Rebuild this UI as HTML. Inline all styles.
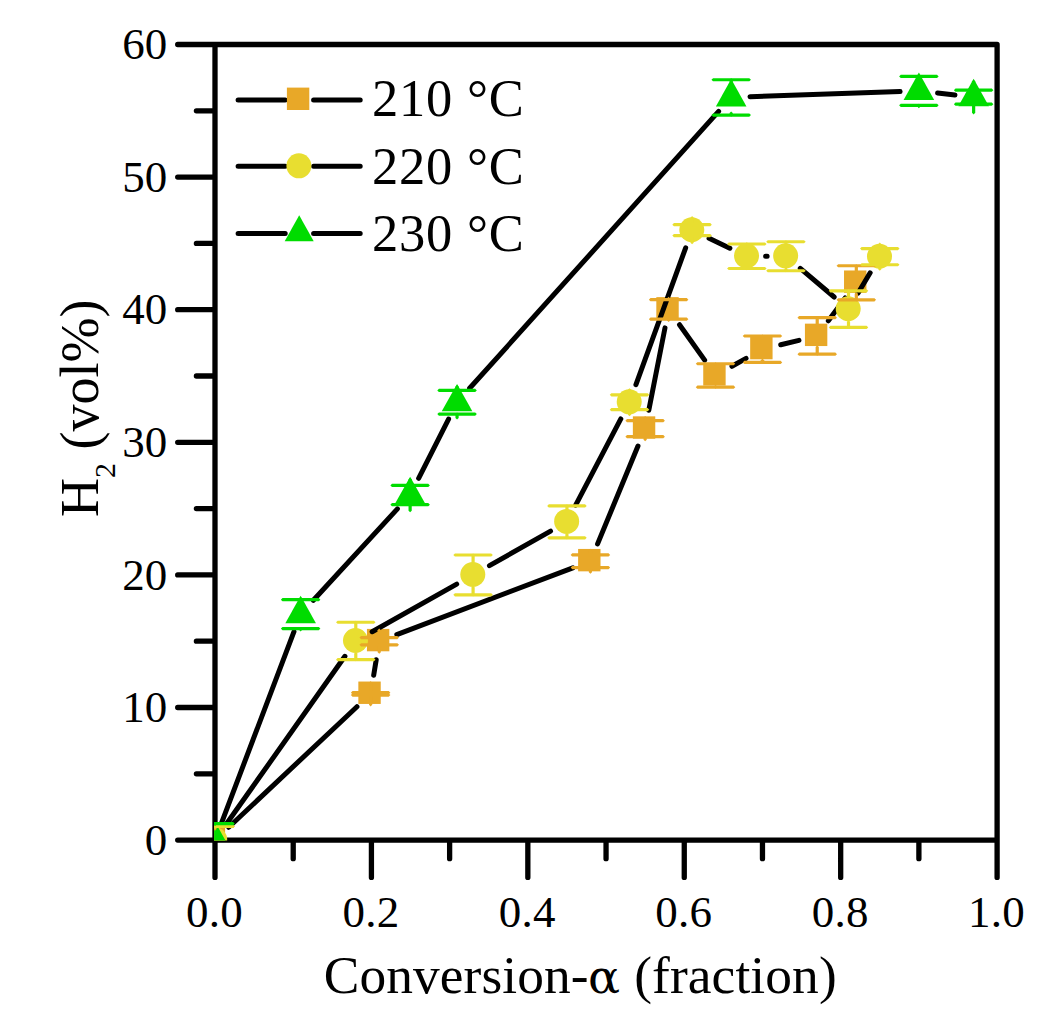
<!DOCTYPE html>
<html lang="en"><head><meta charset="utf-8"><title>H2 (vol%) vs Conversion</title>
<style>html,body{margin:0;padding:0;background:#fff;}svg{display:block;}text{font-family:'Liberation Serif', 'Times New Roman', serif;fill:#000;}</style>
</head><body>
<svg width="1047" height="1028" viewBox="0 0 1047 1028">
<rect width="1047" height="1028" fill="#fff"/>
<path d="M177.7 44.5H997.1V877.4M177.7 840.1H997.1M215 44.5V877.4M215 773.8H196.4M215 707.5H177.7M215 641.2H196.4M215 574.9H177.7M215 508.6H196.4M215 442.3H177.7M215 376H196.4M215 309.7H177.7M215 243.4H196.4M215 177.1H177.7M215 110.8H196.4M293.21 840.1V858.7M371.42 840.1V877.4M449.63 840.1V858.7M527.84 840.1V877.4M606.05 840.1V858.7M684.26 840.1V877.4M762.47 840.1V858.7M840.68 840.1V877.4M918.89 840.1V858.7" stroke="#000" stroke-width="5.3" stroke-linecap="round" stroke-linejoin="round" fill="none"/>
<g font-size="45">
<text x="167.2" y="854.7" text-anchor="end">0</text>
<text x="167.2" y="722.1" text-anchor="end">10</text>
<text x="167.2" y="589.5" text-anchor="end">20</text>
<text x="167.2" y="456.9" text-anchor="end">30</text>
<text x="167.2" y="324.3" text-anchor="end">40</text>
<text x="167.2" y="191.7" text-anchor="end">50</text>
<text x="167.2" y="59.1" text-anchor="end">60</text>
<text x="214.5" y="927.1" text-anchor="middle" letter-spacing="0.25">0.0</text>
<text x="370.92" y="927.1" text-anchor="middle" letter-spacing="0.25">0.2</text>
<text x="527.34" y="927.1" text-anchor="middle" letter-spacing="0.25">0.4</text>
<text x="683.76" y="927.1" text-anchor="middle" letter-spacing="0.25">0.6</text>
<text x="840.18" y="927.1" text-anchor="middle" letter-spacing="0.25">0.8</text>
<text x="996.6" y="927.1" text-anchor="middle" letter-spacing="0.25">1.0</text>
</g>
<text y="993.1" font-size="53.4"><tspan x="323.7" letter-spacing="0.1">Conversion-</tspan><tspan x="588" font-family="'DejaVu Serif', serif" font-size="47.5">α </tspan><tspan x="634.2" letter-spacing="0.1">(fraction)</tspan></text>
<text transform="translate(97.8 516.9) rotate(-90)" font-size="54">H<tspan font-size="30" dy="17.5">2</tspan><tspan dy="-17.5"> (vol%)</tspan></text>
<clipPath id="pa"><rect x="214.1" y="40" width="785.6" height="800.6"/></clipPath>
<g clip-path="url(#pa)">
<path d="M228.7 827.23L356.94 706.72M373.67 675.29L376.21 659.75M396.82 634.54L572.83 567.9M597.58 543.87L637.98 446.02M648.79 410.2L664.99 327.88M679.51 324.76L704.65 360.14M731.95 366.29L746.06 358.39M780.74 344.79L798.95 340.38M828.36 320.81L845.18 297.93" stroke="#000" stroke-width="5.0" stroke-linecap="round" fill="none"/>
<rect x="202.7" y="827.8" width="22.4" height="22.4" fill="#E8A828"/><rect x="358.34" y="681.54" width="22.4" height="22.4" fill="#E8A828"/><rect x="366.94" y="628.9" width="22.4" height="22.4" fill="#E8A828"/><rect x="578.11" y="548.94" width="22.4" height="22.4" fill="#E8A828"/><rect x="632.86" y="416.34" width="22.4" height="22.4" fill="#E8A828"/><rect x="656.32" y="297.13" width="22.4" height="22.4" fill="#E8A828"/><rect x="703.24" y="363.17" width="22.4" height="22.4" fill="#E8A828"/><rect x="750.17" y="336.91" width="22.4" height="22.4" fill="#E8A828"/><rect x="804.92" y="323.65" width="22.4" height="22.4" fill="#E8A828"/><rect x="844.02" y="270.48" width="22.4" height="22.4" fill="#E8A828"/>
<path d="M225.85 824.75L344.93 656.29M372.16 631.71L456.71 584.12M489.46 565.65L550.58 531.11M575.66 505.2L620.8 418.91M635.94 384.59L685.66 247.81M709.05 238.24L729.86 248.17M765.63 256.26L767.13 256.26M800.29 268.4L834.15 297.03M858.12 293.02L870.16 272.81" stroke="#000" stroke-width="5.0" stroke-linecap="round" fill="none"/>
<circle cx="214.7" cy="839.7" r="12.5" fill="#E8DE30"/><circle cx="355.48" cy="640.53" r="12.5" fill="#E8DE30"/><circle cx="472.79" cy="574.5" r="12.5" fill="#E8DE30"/><circle cx="566.64" cy="521.46" r="12.5" fill="#E8DE30"/><circle cx="629.21" cy="401.85" r="12.5" fill="#E8DE30"/><circle cx="691.78" cy="229.74" r="12.5" fill="#E8DE30"/><circle cx="746.53" cy="255.86" r="12.5" fill="#E8DE30"/><circle cx="785.63" cy="255.86" r="12.5" fill="#E8DE30"/><circle cx="848.2" cy="308.77" r="12.5" fill="#E8DE30"/><circle cx="879.49" cy="256.26" r="12.5" fill="#E8DE30"/>
<path d="M221.66 822.52L293.98 631.73M313.37 600.31L397.41 508.91M418.62 478.3L448.58 419.03M469.63 388.28L718.62 111.39M749.97 96.76L900.1 91.56M937.57 93.04L954.96 95.02" stroke="#000" stroke-width="5.0" stroke-linecap="round" fill="none"/>
<polygon points="215,821.8 230.3,849.1 199.7,849.1" fill="#00DC00"/><polygon points="300.64,595.85 315.94,623.15 285.34,623.15" fill="#00DC00"/><polygon points="410.13,476.77 425.43,504.07 394.83,504.07" fill="#00DC00"/><polygon points="457.06,383.95 472.36,411.25 441.76,411.25" fill="#00DC00"/><polygon points="731.19,79.11 746.49,106.41 715.89,106.41" fill="#00DC00"/><polygon points="918.89,72.61 934.19,99.91 903.59,99.91" fill="#00DC00"/><polygon points="973.64,78.84 988.94,106.14 958.34,106.14" fill="#00DC00"/>
<polygon points="215,824.9 216.6,826.5 216.6,829.1 215,830.7 213.4,829.1 213.4,826.5" fill="#E8A828"/><polygon points="215,849.5 216.6,851.1 216.6,853.7 215,855.3 213.4,853.7 213.4,851.1" fill="#E8A828"/><polygon points="195.25,826.5 196.85,824.9 233.15,824.9 234.75,826.5 233.15,828.1 196.85,828.1" fill="#E8A828"/><polygon points="195.25,853.7 196.85,852.1 233.15,852.1 234.75,853.7 233.15,855.3 196.85,855.3" fill="#E8A828"/><polygon points="370.64,681.24 372.24,682.84 372.24,692.64 370.64,694.24 369.04,692.64 369.04,682.84" fill="#E8A828"/><polygon points="370.64,693.44 372.24,695.04 372.24,704.84 370.64,706.44 369.04,704.84 369.04,695.04" fill="#E8A828"/><polygon points="350.89,692.64 352.49,691.04 388.79,691.04 390.39,692.64 388.79,694.24 352.49,694.24" fill="#E8A828"/><polygon points="350.89,695.04 352.49,693.44 388.79,693.44 390.39,695.04 388.79,696.64 352.49,696.64" fill="#E8A828"/><polygon points="379.24,628.6 380.84,630.2 380.84,637.6 379.24,639.2 377.64,637.6 377.64,630.2" fill="#E8A828"/><polygon points="379.24,643.2 380.84,644.8 380.84,652.2 379.24,653.8 377.64,652.2 377.64,644.8" fill="#E8A828"/><polygon points="359.49,637.6 361.09,636 397.39,636 398.99,637.6 397.39,639.2 361.09,639.2" fill="#E8A828"/><polygon points="359.49,644.8 361.09,643.2 397.39,643.2 398.99,644.8 397.39,646.4 361.09,646.4" fill="#E8A828"/><polygon points="590.41,548.64 592.01,550.24 592.01,554.94 590.41,556.54 588.81,554.94 588.81,550.24" fill="#E8A828"/><polygon points="590.41,565.94 592.01,567.54 592.01,572.24 590.41,573.84 588.81,572.24 588.81,567.54" fill="#E8A828"/><polygon points="570.66,554.94 572.26,553.34 608.56,553.34 610.16,554.94 608.56,556.54 572.26,556.54" fill="#E8A828"/><polygon points="570.66,567.54 572.26,565.94 608.56,565.94 610.16,567.54 608.56,569.14 572.26,569.14" fill="#E8A828"/><polygon points="645.15,416.04 646.75,417.64 646.75,420.64 645.15,422.24 643.55,420.64 643.55,417.64" fill="#E8A828"/><polygon points="645.15,435.04 646.75,436.64 646.75,439.64 645.15,441.24 643.55,439.64 643.55,436.64" fill="#E8A828"/><polygon points="625.4,420.64 627,419.04 663.3,419.04 664.9,420.64 663.3,422.24 627,422.24" fill="#E8A828"/><polygon points="625.4,436.64 627,435.04 663.3,435.04 664.9,436.64 663.3,438.24 627,438.24" fill="#E8A828"/><polygon points="668.62,296.83 670.22,298.43 670.22,299.68 668.62,301.28 667.02,299.68 667.02,298.43" fill="#E8A828"/><polygon points="668.62,317.58 670.22,319.18 670.22,320.43 668.62,322.03 667.02,320.43 667.02,319.18" fill="#E8A828"/><polygon points="648.87,299.68 650.47,298.08 686.77,298.08 688.37,299.68 686.77,301.28 650.47,301.28" fill="#E8A828"/><polygon points="648.87,319.18 650.47,317.58 686.77,317.58 688.37,319.18 686.77,320.78 650.47,320.78" fill="#E8A828"/><polygon points="715.54,362.17 717.14,363.77 717.14,364.47 715.54,366.07 713.94,364.47 713.94,363.77" fill="#E8A828"/><polygon points="715.54,384.87 717.14,386.47 717.14,387.17 715.54,388.77 713.94,387.17 713.94,386.47" fill="#E8A828"/><polygon points="695.79,363.77 697.39,362.17 733.69,362.17 735.29,363.77 733.69,365.37 697.39,365.37" fill="#E8A828"/><polygon points="695.79,387.17 697.39,385.57 733.69,385.57 735.29,387.17 733.69,388.77 697.39,388.77" fill="#E8A828"/><polygon points="762.47,334.41 764.07,336.01 764.07,338.21 762.47,339.81 760.87,338.21 760.87,336.01" fill="#E8A828"/><polygon points="762.47,358.61 764.07,360.21 764.07,362.41 762.47,364.01 760.87,362.41 760.87,360.21" fill="#E8A828"/><polygon points="742.72,336.01 744.32,334.41 780.62,334.41 782.22,336.01 780.62,337.61 744.32,337.61" fill="#E8A828"/><polygon points="742.72,362.41 744.32,360.81 780.62,360.81 782.22,362.41 780.62,364.01 744.32,364.01" fill="#E8A828"/><polygon points="817.22,316.1 818.82,317.7 818.82,324.95 817.22,326.55 815.62,324.95 815.62,317.7" fill="#E8A828"/><polygon points="817.22,345.35 818.82,346.95 818.82,354.2 817.22,355.8 815.62,354.2 815.62,346.95" fill="#E8A828"/><polygon points="797.47,317.7 799.07,316.1 835.37,316.1 836.97,317.7 835.37,319.3 799.07,319.3" fill="#E8A828"/><polygon points="797.47,354.2 799.07,352.6 835.37,352.6 836.97,354.2 835.37,355.8 799.07,355.8" fill="#E8A828"/><polygon points="856.32,264.13 857.92,265.73 857.92,271.78 856.32,273.38 854.72,271.78 854.72,265.73" fill="#E8A828"/><polygon points="856.32,292.18 857.92,293.78 857.92,299.83 856.32,301.43 854.72,299.83 854.72,293.78" fill="#E8A828"/><polygon points="836.57,265.73 838.17,264.13 874.47,264.13 876.07,265.73 874.47,267.33 838.17,267.33" fill="#E8A828"/><polygon points="836.57,299.83 838.17,298.23 874.47,298.23 876.07,299.83 874.47,301.43 838.17,301.43" fill="#E8A828"/>
<polygon points="215,824.9 216.6,826.5 216.6,827.6 215,829.2 213.4,827.6 213.4,826.5" fill="#E8DE30"/><polygon points="215,851 216.6,852.6 216.6,853.7 215,855.3 213.4,853.7 213.4,852.6" fill="#E8DE30"/><polygon points="195.25,826.5 196.85,824.9 233.15,824.9 234.75,826.5 233.15,828.1 196.85,828.1" fill="#E8DE30"/><polygon points="195.25,853.7 196.85,852.1 233.15,852.1 234.75,853.7 233.15,855.3 196.85,855.3" fill="#E8DE30"/><polygon points="355.78,620.63 357.38,622.23 357.38,628.43 355.78,630.03 354.18,628.43 354.18,622.23" fill="#E8DE30"/><polygon points="355.78,651.83 357.38,653.43 357.38,659.63 355.78,661.23 354.18,659.63 354.18,653.43" fill="#E8DE30"/><polygon points="336.03,622.23 337.63,620.63 373.93,620.63 375.53,622.23 373.93,623.83 337.63,623.83" fill="#E8DE30"/><polygon points="336.03,659.63 337.63,658.03 373.93,658.03 375.53,659.63 373.93,661.23 337.63,661.23" fill="#E8DE30"/><polygon points="473.09,553.4 474.69,555 474.69,562.4 473.09,564 471.49,562.4 471.49,555" fill="#E8DE30"/><polygon points="473.09,585.8 474.69,587.4 474.69,594.8 473.09,596.4 471.49,594.8 471.49,587.4" fill="#E8DE30"/><polygon points="453.34,555 454.94,553.4 491.24,553.4 492.84,555 491.24,556.6 454.94,556.6" fill="#E8DE30"/><polygon points="453.34,594.8 454.94,593.2 491.24,593.2 492.84,594.8 491.24,596.4 454.94,596.4" fill="#E8DE30"/><polygon points="566.94,504.31 568.54,505.91 568.54,509.36 566.94,510.96 565.34,509.36 565.34,505.91" fill="#E8DE30"/><polygon points="566.94,532.76 568.54,534.36 568.54,537.81 566.94,539.41 565.34,537.81 565.34,534.36" fill="#E8DE30"/><polygon points="547.19,505.91 548.79,504.31 585.09,504.31 586.69,505.91 585.09,507.51 548.79,507.51" fill="#E8DE30"/><polygon points="547.19,537.81 548.79,536.21 585.09,536.21 586.69,537.81 585.09,539.41 548.79,539.41" fill="#E8DE30"/><polygon points="629.51,388.15 631.11,389.75 631.11,394.85 629.51,396.45 627.91,394.85 627.91,389.75" fill="#E8DE30"/><polygon points="629.51,408.05 631.11,409.65 631.11,414.75 629.51,416.35 627.91,414.75 627.91,409.65" fill="#E8DE30"/><polygon points="609.76,394.85 611.36,393.25 647.66,393.25 649.26,394.85 647.66,396.45 611.36,396.45" fill="#E8DE30"/><polygon points="609.76,409.65 611.36,408.05 647.66,408.05 649.26,409.65 647.66,411.25 611.36,411.25" fill="#E8DE30"/><polygon points="692.08,216.04 693.68,217.64 693.68,224.69 692.08,226.29 690.48,224.69 690.48,217.64" fill="#E8DE30"/><polygon points="692.08,233.99 693.68,235.59 693.68,242.64 692.08,244.24 690.48,242.64 690.48,235.59" fill="#E8DE30"/><polygon points="672.33,224.69 673.93,223.09 710.23,223.09 711.83,224.69 710.23,226.29 673.93,226.29" fill="#E8DE30"/><polygon points="672.33,235.59 673.93,233.99 710.23,233.99 711.83,235.59 710.23,237.19 673.93,237.19" fill="#E8DE30"/><polygon points="746.83,242.16 748.43,243.76 748.43,244.01 746.83,245.61 745.23,244.01 745.23,243.76" fill="#E8DE30"/><polygon points="746.83,266.91 748.43,268.51 748.43,268.76 746.83,270.36 745.23,268.76 745.23,268.51" fill="#E8DE30"/><polygon points="727.08,244.01 728.68,242.41 764.98,242.41 766.58,244.01 764.98,245.61 728.68,245.61" fill="#E8DE30"/><polygon points="727.08,268.51 728.68,266.91 764.98,266.91 766.58,268.51 764.98,270.11 728.68,270.11" fill="#E8DE30"/><polygon points="785.93,240.16 787.53,241.76 787.53,243.76 785.93,245.36 784.33,243.76 784.33,241.76" fill="#E8DE30"/><polygon points="785.93,267.16 787.53,268.76 787.53,270.76 785.93,272.36 784.33,270.76 784.33,268.76" fill="#E8DE30"/><polygon points="766.18,241.76 767.78,240.16 804.08,240.16 805.68,241.76 804.08,243.36 767.78,243.36" fill="#E8DE30"/><polygon points="766.18,270.76 767.78,269.16 804.08,269.16 805.68,270.76 804.08,272.36 767.78,272.36" fill="#E8DE30"/><polygon points="848.5,289.27 850.1,290.87 850.1,296.67 848.5,298.27 846.9,296.67 846.9,290.87" fill="#E8DE30"/><polygon points="848.5,320.07 850.1,321.67 850.1,327.47 848.5,329.07 846.9,327.47 846.9,321.67" fill="#E8DE30"/><polygon points="828.75,290.87 830.35,289.27 866.65,289.27 868.25,290.87 866.65,292.47 830.35,292.47" fill="#E8DE30"/><polygon points="828.75,327.47 830.35,325.87 866.65,325.87 868.25,327.47 866.65,329.07 830.35,329.07" fill="#E8DE30"/><polygon points="879.78,242.56 881.38,244.16 881.38,248.56 879.78,250.16 878.18,248.56 878.18,244.16" fill="#E8DE30"/><polygon points="879.78,263.16 881.38,264.76 881.38,269.16 879.78,270.76 878.18,269.16 878.18,264.76" fill="#E8DE30"/><polygon points="860.03,248.56 861.63,246.96 897.93,246.96 899.53,248.56 897.93,250.16 861.63,250.16" fill="#E8DE30"/><polygon points="860.03,264.76 861.63,263.16 897.93,263.16 899.53,264.76 897.93,266.36 861.63,266.36" fill="#E8DE30"/>
<polygon points="215,822.1 216.6,823.7 216.6,824.4 215,826 213.4,824.4 213.4,823.7" fill="#00DC00"/><polygon points="215,854.2 216.6,855.8 216.6,856.5 215,858.1 213.4,856.5 213.4,855.8" fill="#00DC00"/><polygon points="195.25,823.7 196.85,822.1 233.15,822.1 234.75,823.7 233.15,825.3 196.85,825.3" fill="#00DC00"/><polygon points="195.25,856.5 196.85,854.9 233.15,854.9 234.75,856.5 233.15,858.1 196.85,858.1" fill="#00DC00"/><polygon points="300.64,596.85 302.24,598.45 302.24,599.7 300.64,601.3 299.04,599.7 299.04,598.45" fill="#00DC00"/><polygon points="300.64,627 302.24,628.6 302.24,629.85 300.64,631.45 299.04,629.85 299.04,628.6" fill="#00DC00"/><polygon points="280.89,599.7 282.49,598.1 318.79,598.1 320.39,599.7 318.79,601.3 282.49,601.3" fill="#00DC00"/><polygon points="280.89,628.6 282.49,627 318.79,627 320.39,628.6 318.79,630.2 282.49,630.2" fill="#00DC00"/><polygon points="410.13,477.77 411.73,479.37 411.73,485.47 410.13,487.07 408.53,485.47 408.53,479.37" fill="#00DC00"/><polygon points="410.13,503.07 411.73,504.67 411.73,510.77 410.13,512.37 408.53,510.77 408.53,504.67" fill="#00DC00"/><polygon points="390.38,485.47 391.98,483.87 428.28,483.87 429.88,485.47 428.28,487.07 391.98,487.07" fill="#00DC00"/><polygon points="390.38,504.67 391.98,503.07 428.28,503.07 429.88,504.67 428.28,506.27 391.98,506.27" fill="#00DC00"/><polygon points="457.06,384.95 458.66,386.55 458.66,390.4 457.06,392 455.46,390.4 455.46,386.55" fill="#00DC00"/><polygon points="457.06,412.5 458.66,414.1 458.66,417.95 457.06,419.55 455.46,417.95 455.46,414.1" fill="#00DC00"/><polygon points="437.31,390.4 438.91,388.8 475.21,388.8 476.81,390.4 475.21,392 438.91,392" fill="#00DC00"/><polygon points="437.31,414.1 438.91,412.5 475.21,412.5 476.81,414.1 475.21,415.7 438.91,415.7" fill="#00DC00"/><polygon points="731.19,78.16 732.79,79.76 732.79,81.71 731.19,83.31 729.59,81.71 729.59,79.76" fill="#00DC00"/><polygon points="731.19,111.51 732.79,113.11 732.79,115.06 731.19,116.66 729.59,115.06 729.59,113.11" fill="#00DC00"/><polygon points="711.44,79.76 713.04,78.16 749.34,78.16 750.94,79.76 749.34,81.36 713.04,81.36" fill="#00DC00"/><polygon points="711.44,115.06 713.04,113.46 749.34,113.46 750.94,115.06 749.34,116.66 713.04,116.66" fill="#00DC00"/><polygon points="918.89,73.61 920.49,75.21 920.49,76.46 918.89,78.06 917.29,76.46 917.29,75.21" fill="#00DC00"/><polygon points="918.89,103.76 920.49,105.36 920.49,106.61 918.89,108.21 917.29,106.61 917.29,105.36" fill="#00DC00"/><polygon points="899.14,76.46 900.74,74.86 937.04,74.86 938.64,76.46 937.04,78.06 900.74,78.06" fill="#00DC00"/><polygon points="899.14,105.36 900.74,103.76 937.04,103.76 938.64,105.36 937.04,106.96 900.74,106.96" fill="#00DC00"/><polygon points="973.64,79.84 975.24,81.44 975.24,90.14 973.64,91.74 972.04,90.14 972.04,81.44" fill="#00DC00"/><polygon points="973.64,102.54 975.24,104.14 975.24,112.84 973.64,114.44 972.04,112.84 972.04,104.14" fill="#00DC00"/><polygon points="953.89,90.14 955.49,88.54 991.79,88.54 993.39,90.14 991.79,91.74 955.49,91.74" fill="#00DC00"/><polygon points="953.89,104.14 955.49,102.54 991.79,102.54 993.39,104.14 991.79,105.74 955.49,105.74" fill="#00DC00"/>
</g>
<path d="M238.1 99.9H285.2M313.6 99.9H360.2" stroke="#000" stroke-width="5.0" stroke-linecap="round"/>
<rect x="286.9" y="87.6" width="22.4" height="22.4" fill="#E8A828"/>
<text x="372.1" y="116.2" font-size="52.5" letter-spacing="0.75">210 °C</text>
<path d="M238.1 166.2H285.2M313.6 166.2H360.2" stroke="#000" stroke-width="5.0" stroke-linecap="round"/>
<circle cx="298.9" cy="165.8" r="12.5" fill="#E8DE30"/>
<text x="372.1" y="183.6" font-size="52.5" letter-spacing="0.75">220 °C</text>
<path d="M238.1 233.4H285.2M313.6 233.4H360.2" stroke="#000" stroke-width="5.0" stroke-linecap="round"/>
<polygon points="299.2,215.2 313.7,241.2 284.7,241.2" fill="#00DC00"/>
<text x="372.1" y="251.05" font-size="52.5" letter-spacing="0.75">230 °C</text>
</svg></body></html>
